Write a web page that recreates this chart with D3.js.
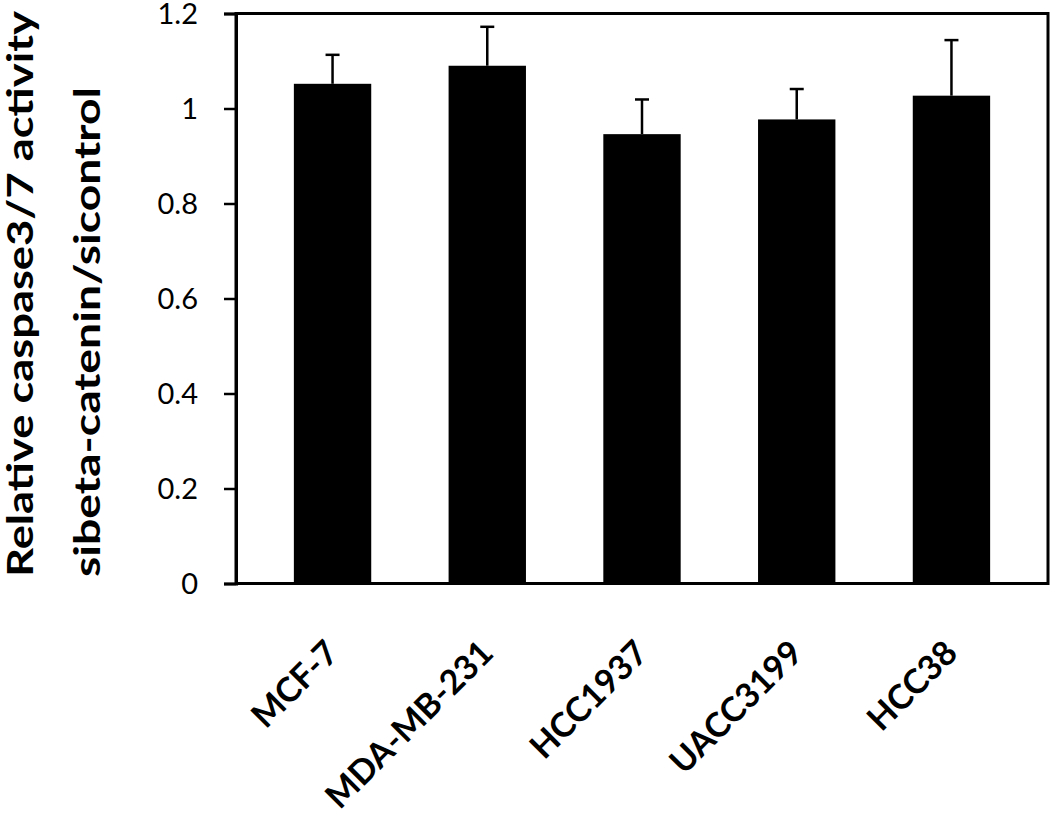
<!DOCTYPE html>
<html>
<head>
<meta charset="utf-8">
<script src="https://cdn.jsdelivr.net/npm/d3@7"></script>
<style>
  html, body { margin: 0; padding: 0; background: #fff; }
  svg { display: block; }
</style>
</head>
<body>
<svg id="chart" width="1050" height="820"></svg>
<script>
// ---- data ----
const categories = ["MCF-7", "MDA-MB-231", "HCC1937", "UACC3199", "HCC38"];
const values = [1.052, 1.090, 0.946, 0.977, 1.027];
const errors = [0.061, 0.082, 0.073, 0.064, 0.117];
const yTicks = [0, 0.2, 0.4, 0.6, 0.8, 1, 1.2];
const yTitleLines = ["Relative caspase3/7 activity", "sibeta-catenin/sicontrol"];

// ---- layout ----
const mLeft = 236, mRight = 1048, mTop = 13.5, mBottom = 583.5;
const svg = d3.select("#chart");
const FONT = "Lato, 'Open Sans', 'Liberation Sans', sans-serif";

const x = d3.scaleBand().domain(categories).range([mLeft, mRight])
  .paddingInner(0.5).paddingOuter(0.374);
const y = d3.scaleLinear().domain([0, 1.2]).range([mBottom, mTop]);

// bars
svg.append("g").selectAll("rect").data(categories).join("rect")
  .attr("x", d => x(d))
  .attr("width", x.bandwidth())
  .attr("y", (d, i) => y(values[i]))
  .attr("height", (d, i) => y(0) - y(values[i]))
  .attr("fill", "#000");

// error bars (upper only)
const eb = svg.append("g").attr("stroke", "#000").attr("stroke-width", 2.5);
categories.forEach((c, i) => {
  const cx = x(c) + x.bandwidth() / 2;
  eb.append("line").attr("x1", cx).attr("x2", cx)
    .attr("y1", y(values[i])).attr("y2", y(values[i] + errors[i]));
  eb.append("line").attr("x1", cx - 7).attr("x2", cx + 7)
    .attr("y1", y(values[i] + errors[i])).attr("y2", y(values[i] + errors[i]));
});

// frame
svg.append("rect").attr("x", mLeft).attr("y", mTop)
  .attr("width", mRight - mLeft).attr("height", mBottom - mTop)
  .attr("fill", "none").attr("stroke", "#000").attr("stroke-width", 3);

// y axis
const yAxis = d3.axisLeft(y).tickValues(yTicks).tickSize(12).tickPadding(26)
  .tickFormat(d => String(d));
const ya = svg.append("g").attr("transform", `translate(${mLeft},0)`).call(yAxis);
ya.select(".domain").attr("stroke", "#000").attr("stroke-width", 3);
ya.selectAll(".tick line").attr("stroke", "#000").attr("stroke-width", 2.5);
ya.selectAll(".tick text").attr("font-family", FONT).attr("font-size", 29)
  .attr("fill", "#000").attr("dy", "0.36em");

// x labels (rotated -45)
svg.append("g").selectAll("text").data(categories).join("text")
  .attr("transform", d => `translate(${x(d) + x.bandwidth() / 2 + 8},655) rotate(-45)`)
  .attr("text-anchor", "end")
  .attr("font-family", FONT).attr("font-weight", "bold").attr("font-size", 34)
  .attr("fill", "#000")
  .text(d => d);

// y title
const yt = svg.append("g");
const baseX = [33, 100];
const targetLen = [566, 490];
yTitleLines.forEach((t, i) =>
  yt.append("text")
    .attr("transform", `translate(${baseX[i]},577) rotate(-90)`)
    .attr("text-anchor", "start")
    .attr("font-family", FONT).attr("font-weight", "bold").attr("font-size", 37)
    .attr("fill", "#000")
    .attr("textLength", targetLen[i]).attr("lengthAdjust", "spacingAndGlyphs")
    .text(t));
</script>
</body>
</html>
